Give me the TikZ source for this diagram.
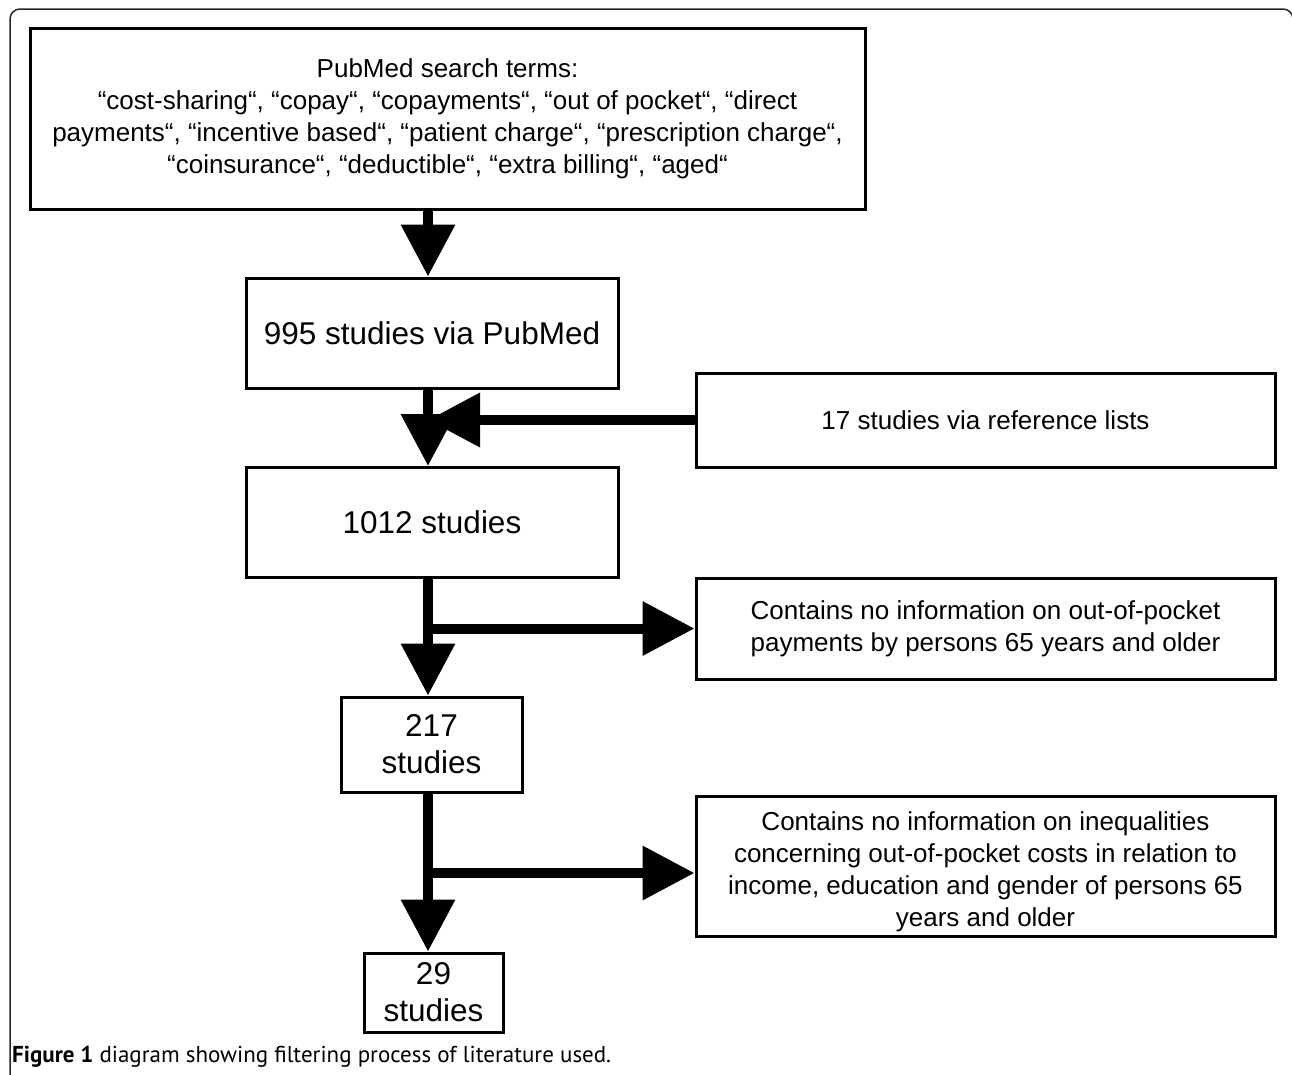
\documentclass[tikz,border=0pt]{standalone}
\usepackage{fontspec}
\setmainfont{Liberation Sans}
\newfontfamily\capfont{PT Sans}
\usetikzlibrary{arrows.meta,calc}
\begin{document}
\begin{tikzpicture}[x=1pt,y=-1pt,
  box/.style={draw,line width=3pt,rectangle,inner sep=0pt,align=center,font=\fontsize{26}{32}\selectfont},
  bigbox/.style={box,font=\fontsize{31.5}{37}\selectfont},
  plain/.style={inner sep=0pt,align=center,font=\fontsize{26}{32}\selectfont},
  shaft/.style={line width=10pt,-{Triangle[width=52pt,length=52pt]}},
  frame/.style={line width=1.5pt,draw=black!85}
  ]
\useasboundingbox (0,0) rectangle (1292,1074);
\begin{scope}
\clip (0,0) rectangle (1292,1074);
\draw[frame] (10,1080) -- (10,19) arc[start angle=180,end angle=270,radius=10] -- (1283,9) arc[start angle=270,end angle=360,radius=10] -- (1293,1080);
\end{scope}

\coordinate (sp) at (428,0);

\node[box,minimum width=835pt,minimum height=181pt] (b1) at (447.5,119)
  {PubMed search terms:\\“cost-sharing“, “copay“, “copayments“, “out of pocket“, “direct\\payments“, “incentive based“, “patient charge“, “prescription charge“,\\“coinsurance“, “deductible“, “extra billing“, “aged“};
\node[bigbox,minimum width=372pt,minimum height=110pt] (b2) at (432,333) {995 studies via PubMed};
\node[box,minimum width=579pt,minimum height=94pt] (b3) at (985.5,420) {17 studies via reference lists};
\node[bigbox,minimum width=372pt,minimum height=110pt] (b4) at (432,522.5) {1012 studies};
\node[box,minimum width=579pt,minimum height=101pt] (b5) at (985.5,628.5) {Contains no information on out-of-pocket\\payments by persons 65 years and older};
\node[bigbox,minimum width=181pt,minimum height=95pt] (b6) at (431.5,744.5) {217\\studies};
\node[box,minimum width=579pt,minimum height=140pt] (b7) at (985.5,866) {};
\node[plain] (b7t) at (985.5,872) {Contains no information on inequalities\\concerning out-of-pocket costs in relation to\\income, education and gender of persons 65\\years and older};
\node[bigbox,minimum width=139pt,minimum height=79pt] (b8) at (433.5,992.5) {29\\studies};

\draw[shaft] (b1.south -| sp) -- (b2.north -| sp);
\draw[shaft] (b2.south -| sp) -- (b4.north -| sp);
\draw[shaft] (b3.west) -- (b3.west -| sp);
\draw[shaft] (b4.south -| sp) -- (b6.north -| sp);
\coordinate (j1) at (sp |- b5.west);
\draw[shaft] (j1) -- (b5.west);
\draw[shaft] (b6.south -| sp) -- (b8.north -| sp);
\coordinate (j2) at (428,873);
\draw[shaft] (j2) -- (j2 -| b7.west);

\node[anchor=west,inner sep=0pt,font=\capfont\fontsize{23}{27}\selectfont] (cap) at (12,1057)
  {\textbf{Figure 1} diagram showing filtering process of literature used.};
\end{tikzpicture}
\end{document}
